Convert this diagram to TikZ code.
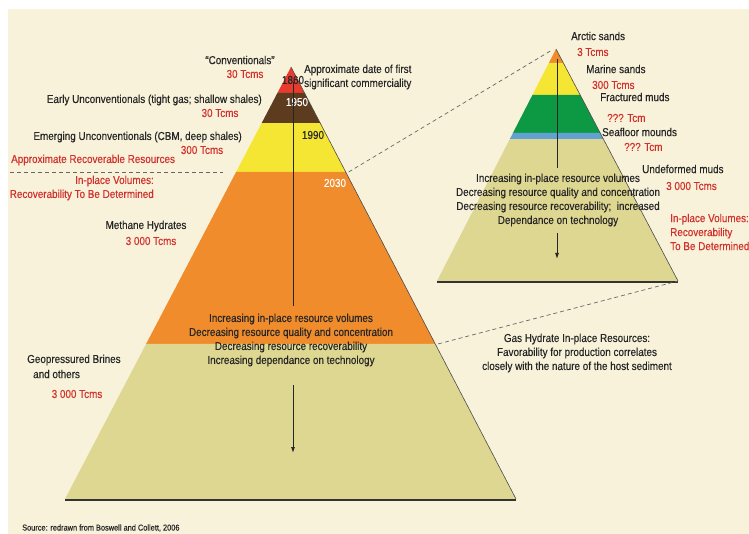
\documentclass[tikz,border=0pt]{standalone}
\usepackage{fontspec}
\setmainfont{Liberation Sans}[FakeStretch=0.86, FakeBold=0.3]
\usetikzlibrary{calc,arrows.meta}

\definecolor{bgcream}{HTML}{F8F2DA}
\definecolor{hydred}{HTML}{E63B2E}
\definecolor{hydbrown}{HTML}{5C3B1F}
\definecolor{hydyellow}{HTML}{F6E634}
\definecolor{hydorange}{HTML}{F08C2B}
\definecolor{hydkhaki}{HTML}{DED791}
\definecolor{hydgreen}{HTML}{0D9944}
\definecolor{hydblue}{HTML}{62A2D3}
\definecolor{tcmred}{HTML}{D2302C}

\tikzset{
  lbl/.style = {font=\fontsize{11.5}{14}\selectfont, inner sep=0pt, text=black!85},
  qty/.style = {lbl, text=tcmred},
  link/.style = {draw=black!60, dash pattern=on 4pt off 3pt, line width=0.7pt},
  flow/.style = {draw=black!85, line width=0.9pt},
}

\begin{document}
\begin{tikzpicture}[x=1pt, y=-1pt, >={Latex[length=6pt,width=4pt]}]
\useasboundingbox (0,0) rectangle (749,534);
\fill[bgcream] (8,9) rectangle (749,534);

% left pyramid
\coordinate (Lap) at (291,67);
\coordinate (Lbl) at (65,499);
\coordinate (Lbr) at (516,499);
\foreach \a/\b/\c in {0/0.060/hydred, 0.060/0.130/hydbrown, 0.130/0.243/hydyellow, 0.243/0.641/hydorange, 0.641/1/hydkhaki}
  \fill[\c] ($(Lap)!\a!(Lbl)$) -- ($(Lap)!\a!(Lbr)$) -- ($(Lap)!\b!(Lbr)$) -- ($(Lap)!\b!(Lbl)$) -- cycle;
\draw[black!70, line width=0.6pt] (Lap) -- (Lbr);
\draw[black!80, line width=1.6pt] ($(Lbl)+(0,1)$) -- ($(Lbr)+(0,1)$);

% right pyramid
\coordinate (Rap) at (556,49);
\coordinate (Rbl) at (437,281);
\coordinate (Rbr) at (678,281);
\foreach \a/\b/\c in {0/0.060/hydorange, 0.060/0.198/hydyellow, 0.198/0.362/hydgreen, 0.362/0.388/hydblue, 0.388/1/hydkhaki}
  \fill[\c] ($(Rap)!\a!(Rbl)$) -- ($(Rap)!\a!(Rbr)$) -- ($(Rap)!\b!(Rbr)$) -- ($(Rap)!\b!(Rbl)$) -- cycle;
\draw[black!70, line width=0.6pt] (Rap) -- (Rbr);
\draw[black!80, line width=1.6pt] ($(Rbl)+(0,1)$) -- ($(Rbr)+(0,1)$);

% zoom lines
\coordinate (hydTop) at ($(Lap)!0.243!(Lbr)+(3,0)$);
\coordinate (hydBot) at ($(Lap)!0.641!(Lbr)+(3,0)$);
\draw[link] (hydTop) -- ($(Rap)+(-4,1)$);
\draw[link] (hydBot) -- (Rbr);
\coordinate (cutL) at (10,172);
\coordinate (cutR) at (223,172);
\draw[link] (cutL) -- (cutR);

% left labels
\node[lbl] (conv) at (240,60) {“Conventionals”};
\node[qty] (convQ) at (245,74) {30 Tcms};
\node[lbl] (y1860) at (293,80) {1860};
\node[lbl, anchor=west, align=left] (firstDate) at (304,77) {Approximate date of first\\significant commerciality};
\node[lbl, text=white] (y1950) at (297,102) {1950};
\node[lbl] (y1990) at (313,135) {1990};
\node[lbl, text=white] (y2030) at (335,183) {2030};
\node[lbl, anchor=east] (early) at (262,100) {Early Unconventionals (tight gas; shallow shales)};
\node[qty] (earlyQ) at (220,113) {30 Tcms};
\node[lbl, anchor=east] (emerg) at (242,137) {Emerging Unconventionals (CBM, deep shales)};
\node[qty] (emergQ) at (202,150) {300 Tcms};
\node[qty, anchor=west] (recov) at (11,160) {Approximate Recoverable Resources};
\node[qty, anchor=east, align=right] (lInplace) at (154,188) {In-place Volumes:\\Recoverability To Be Determined};
\node[lbl] (methane) at (146,226) {Methane Hydrates};
\node[qty] (methaneQ) at (151,241) {3 000 Tcms};
\node[lbl, anchor=west] (brines) at (27,360) {Geopressured Brines};
\node[lbl, anchor=west] (others) at (33,374) {and others};
\node[qty] (brinesQ) at (77,394) {3 000 Tcms};
\node[lbl, align=center] (lTrend) at (291,340) {Increasing in-place resource volumes\\Decreasing resource quality and concentration\\Decreasing resource recoverability\\Increasing dependance on technology};

% left arrow
\coordinate (lA1) at (293,82);
\coordinate (lA2) at (293,306);
\coordinate (lA3) at (293,385);
\coordinate (lA4) at (293,453);
\draw[flow] (lA1) -- (lA2);
\draw[flow, ->] (lA3) -- (lA4);

% right labels
\node[lbl, anchor=west] (arctic) at (571,36) {Arctic sands};
\node[qty, anchor=west] (arcticQ) at (577,52) {3 Tcms};
\node[lbl, anchor=west] (marine) at (586,69) {Marine sands};
\node[qty, anchor=west] (marineQ) at (592,85) {300 Tcms};
\node[lbl, anchor=west] (fract) at (600,97) {Fractured muds};
\node[qty, anchor=west] (fractQ) at (607,118) {??? Tcm};
\node[lbl, anchor=west] (seafl) at (602,132) {Seafloor mounds};
\node[qty, anchor=west] (seaflQ) at (624,147) {??? Tcm};
\node[lbl, anchor=west] (undef) at (642,169) {Undeformed muds};
\node[qty, anchor=west] (undefQ) at (666,186) {3 000 Tcms};
\node[qty, anchor=west, align=left] (rInplace) at (670,232) {In-place Volumes:\\Recoverability\\To Be Determined};
\node[lbl, align=center] (rTrend) at (558,200) {Increasing in-place resource volumes\\Decreasing resource quality and concentration\\Decreasing resource recoverability;\ \ increased\\Dependance on technology};

% right arrow
\coordinate (rA1) at (557,59);
\coordinate (rA2) at (557,168);
\coordinate (rA3) at (557,233);
\coordinate (rA4) at (557,259);
\draw[flow] (rA1) -- (rA2);
\draw[flow, ->] (rA3) -- (rA4);

\node[lbl, align=center] (gasHyd) at (577,353) {Gas Hydrate In-place Resources:\\Favorability for production correlates\\closely with the nature of the host sediment};
\node[lbl, font=\fontsize{8.6}{10}\selectfont, anchor=west] (source) at (22,528) {Source: redrawn from Boswell and Collett, 2006};
\end{tikzpicture}
\end{document}
